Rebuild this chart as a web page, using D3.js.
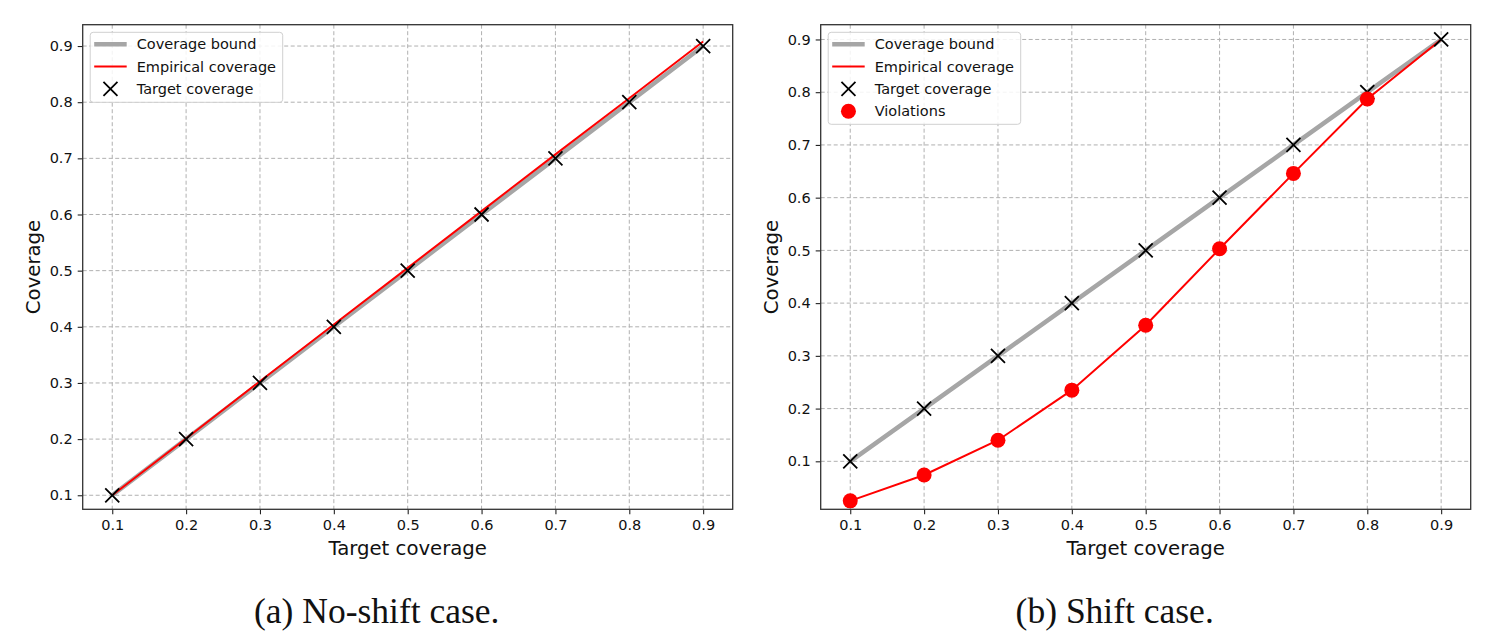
<!DOCTYPE html>
<html>
<head>
<meta charset="utf-8">
<script src="https://cdn.jsdelivr.net/npm/d3@7"></script>
<style>
  body { margin: 0; background: #fff; }
  svg { display: block; }
</style>
</head>
<body>
<svg id="chart" width="1509" height="642"></svg>
<script>
// ---- data ----
const targets = [0.1, 0.2, 0.3, 0.4, 0.5, 0.6, 0.7, 0.8, 0.9];
const boundNoShift = [0.1, 0.2, 0.3, 0.4, 0.5, 0.6, 0.7, 0.8, 0.9];
const empiricalNoShift = [0.1, 0.201, 0.303, 0.404, 0.505, 0.606, 0.707, 0.807, 0.908];
const boundShift = [0.1, 0.2, 0.3, 0.4, 0.5, 0.6, 0.7, 0.8, 0.9];
const empiricalShift = [0.025, 0.074, 0.14, 0.235, 0.358, 0.503, 0.646, 0.787, 0.9];
const xTicks = [0.1, 0.2, 0.3, 0.4, 0.5, 0.6, 0.7, 0.8, 0.9];
const yTicks = [0.1, 0.2, 0.3, 0.4, 0.5, 0.6, 0.7, 0.8, 0.9];
const captions = ["(a) No-shift case.", "(b) Shift case."];
const legendLabels = ["Coverage bound", "Empirical coverage", "Target coverage", "Violations"];

const svg = d3.select("#chart");
const sans = "'DejaVu Sans', sans-serif";

function panel(opts) {
  const { left, right, top, bottom, yDomain, bound, emp, showViolations, caption } = opts;
  const g = svg.append("g");
  const x = d3.scaleLinear().domain([0.06, 0.94]).range([left, right]);
  const y = d3.scaleLinear().domain(yDomain).range([bottom, top]);

  // grid
  g.append("g").selectAll("line.gx").data(xTicks).join("line")
    .attr("x1", d => x(d)).attr("x2", d => x(d)).attr("y1", top).attr("y2", bottom)
    .attr("stroke", "#b0b0b0").attr("stroke-width", 1).attr("stroke-dasharray", "4,2.5");
  g.append("g").selectAll("line.gy").data(yTicks).join("line")
    .attr("y1", d => y(d)).attr("y2", d => y(d)).attr("x1", left).attr("x2", right)
    .attr("stroke", "#b0b0b0").attr("stroke-width", 1).attr("stroke-dasharray", "4,2.5");

  // axes
  const xAxis = g.append("g").attr("transform", `translate(0,${bottom})`)
    .call(d3.axisBottom(x).tickValues(xTicks).tickFormat(d3.format(".1f")).tickSize(5).tickPadding(5));
  const yAxis = g.append("g").attr("transform", `translate(${left},0)`)
    .call(d3.axisLeft(y).tickValues(yTicks).tickFormat(d3.format(".1f")).tickSize(5).tickPadding(5));
  [xAxis, yAxis].forEach(a => {
    a.select(".domain").remove();
    a.selectAll("text").attr("font-family", sans).attr("font-size", 14.5).attr("fill", "#111");
    a.selectAll("line").attr("stroke", "#222").attr("stroke-width", 1.1);
  });

  const clip = "clip" + Math.round(left);
  svg.append("clipPath").attr("id", clip).append("rect")
    .attr("x", left).attr("y", top).attr("width", right - left).attr("height", bottom - top);
  const plot = g.append("g").attr("clip-path", `url(#${clip})`);

  const line = d3.line().x((d, i) => x(targets[i])).y(d => y(d));
  plot.append("path").datum(bound).attr("d", line)
    .attr("fill", "none").attr("stroke", "#a6a6a6").attr("stroke-width", 4.5);
  plot.append("path").datum(emp).attr("d", line)
    .attr("fill", "none").attr("stroke", "#ff0000").attr("stroke-width", 2);

  const s = 7;
  plot.append("g").selectAll("path").data(targets).join("path")
    .attr("d", d => `M${x(d)-s},${y(d)-s}L${x(d)+s},${y(d)+s}M${x(d)-s},${y(d)+s}L${x(d)+s},${y(d)-s}`)
    .attr("stroke", "#000").attr("stroke-width", 1.8).attr("fill", "none");

  if (showViolations) {
    const viol = emp.map((v, i) => ({ t: targets[i], v })).filter(d => d.v < d.t - 1e-9);
    plot.append("g").selectAll("circle").data(viol).join("circle")
      .attr("cx", d => x(d.t)).attr("cy", d => y(d.v)).attr("r", 7.5).attr("fill", "#ff0000");
  }

  // frame
  g.append("rect").attr("x", left).attr("y", top).attr("width", right - left).attr("height", bottom - top)
    .attr("fill", "none").attr("stroke", "#333").attr("stroke-width", 1.3);

  // labels
  g.append("text").attr("x", (left + right) / 2).attr("y", 555).attr("text-anchor", "middle")
    .attr("font-family", sans).attr("font-size", 19.7).attr("fill", "#111").text("Target coverage");
  g.append("text").attr("transform", `translate(${left - 43},${(top + bottom) / 2}) rotate(-90)`)
    .attr("text-anchor", "middle").attr("font-family", sans).attr("font-size", 19.7).attr("fill", "#111")
    .text("Coverage");
  g.append("text").attr("x", (left + right) / 2 - 31).attr("y", 623).attr("text-anchor", "middle")
    .attr("font-family", "'Liberation Serif', 'Times New Roman', serif").attr("font-size", 35.5).attr("fill", "#111")
    .text(caption);

  // legend
  const n = showViolations ? 4 : 3;
  const lx = left + 7.5, ly = 32.3;
  const lw = 192.5;
  const lg = g.append("g");
  lg.append("rect").attr("x", lx).attr("y", ly).attr("width", lw).attr("height", 70 + (n - 3) * 22)
    .attr("rx", 3).attr("fill", "#fff").attr("fill-opacity", 0.85).attr("stroke", "#d0d0d0").attr("stroke-width", 1);
  const rows = legendLabels.slice(0, n);
  rows.forEach((lab, i) => {
    const cy = 44.3 + i * 22.3;
    const hx0 = lx + 4, hx1 = lx + 36.5, hc = (hx0 + hx1) / 2;
    if (i === 0) lg.append("line").attr("x1", hx0).attr("x2", hx1).attr("y1", cy).attr("y2", cy)
      .attr("stroke", "#a6a6a6").attr("stroke-width", 4.5);
    if (i === 1) lg.append("line").attr("x1", hx0).attr("x2", hx1).attr("y1", cy).attr("y2", cy)
      .attr("stroke", "#ff0000").attr("stroke-width", 2);
    if (i === 2) lg.append("path")
      .attr("d", `M${hc-s},${cy-s}L${hc+s},${cy+s}M${hc-s},${cy+s}L${hc+s},${cy-s}`)
      .attr("stroke", "#000").attr("stroke-width", 1.8);
    if (i === 3) lg.append("circle").attr("cx", hc).attr("cy", cy).attr("r", 7.5).attr("fill", "#ff0000");
    lg.append("text").attr("x", lx + 46.5).attr("y", cy + 5).attr("font-family", sans)
      .attr("font-size", 14.5).attr("fill", "#111").text(lab);
  });
}

panel({ left: 82.7, right: 732.7, top: 24.7, bottom: 509.3, yDomain: [0.075, 0.938],
  bound: boundNoShift, emp: empiricalNoShift, showViolations: false, caption: captions[0] });
panel({ left: 820.7, right: 1470.7, top: 24.7, bottom: 509.3, yDomain: [0.009, 0.928],
  bound: boundShift, emp: empiricalShift, showViolations: true, caption: captions[1] });
</script>
</body>
</html>
